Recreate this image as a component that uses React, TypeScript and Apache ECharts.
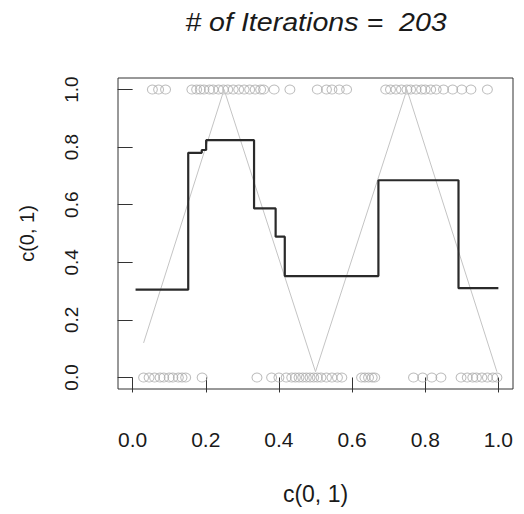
import React, { useEffect, useRef } from "react";
import * as echarts from "echarts";

const titleText = "# of Iterations =  203";
const axisTitle = "c(0, 1)";
const tickValues = [0, 0.2, 0.4, 0.6, 0.8, 1.0];

// observed points with y = 1
const onesX = [
  0.054, 0.071, 0.09,
  0.162, 0.175, 0.185, 0.195, 0.21, 0.22, 0.235, 0.248, 0.26, 0.275, 0.29, 0.305, 0.32, 0.335, 0.35, 0.358,
  0.387, 0.43,
  0.505, 0.53, 0.545, 0.565, 0.585,
  0.692, 0.705, 0.72, 0.735, 0.75, 0.76, 0.775, 0.79, 0.8, 0.815, 0.83, 0.85, 0.875, 0.9, 0.925, 0.97,
];
// observed points with y = 0
const zerosX = [
  0.03, 0.045, 0.06, 0.075, 0.085, 0.1, 0.11, 0.125, 0.135, 0.145,
  0.19,
  0.34,
  0.38, 0.4, 0.42, 0.435, 0.445, 0.455, 0.465, 0.475, 0.485, 0.495, 0.505, 0.515, 0.53, 0.545, 0.56, 0.572,
  0.626, 0.635, 0.645, 0.655, 0.662,
  0.768, 0.793, 0.818, 0.843,
  0.898, 0.915, 0.93, 0.94, 0.955, 0.97, 0.985, 0.996,
];

// true function (triangle wave)
const truthX = [0.03, 0.25, 0.5, 0.75, 0.996];
const truthY = [0.12, 1.0, 0.02, 1.0, 0.02];

// fitted step function
const stepX = [0.008, 0.152, 0.189, 0.201, 0.332, 0.391, 0.416, 0.672, 0.891, 1.0];
const stepY = [0.305, 0.78, 0.79, 0.824, 0.587, 0.489, 0.352, 0.685, 0.31, 0.31];

const FONT = "'Liberation Sans', Arial, Helvetica, sans-serif";

export default function App() {
  const ref = useRef<HTMLDivElement>(null);

  useEffect(() => {
    if (!ref.current) return;
    const chart = echarts.init(ref.current, undefined, { renderer: "svg" });

    const circleStyle = {
      color: "rgba(0,0,0,0)",
      borderColor: "#acacac",
      borderWidth: 1,
    };

    chart.setOption({
      animation: false,
      backgroundColor: "#ffffff",
      graphic: [
        {
          type: "text",
          x: 316,
          y: 22,
          scaleX: 1.1,
          style: {
            text: titleText,
            textAlign: "center",
            textVerticalAlign: "middle",
            font: `italic 26px ${FONT}`,
            fill: "#1a1a1a",
          },
        },
      ],
      grid: {
        left: 118,
        right: 11,
        top: 78,
        bottom: 125,
        show: true,
        borderColor: "#333",
        borderWidth: 1,
        backgroundColor: "transparent",
      },
      xAxis: {
        type: "value",
        min: -0.04,
        max: 1.04,
        name: axisTitle,
        nameLocation: "middle",
        nameGap: 93,
        nameTextStyle: { fontFamily: FONT, fontSize: 23, color: "#1a1a1a" },
        axisLine: { show: false },
        splitLine: { show: false },
        axisTick: {
          show: true,
          length: 15,
          customValues: tickValues,
          lineStyle: { color: "#333", width: 1 },
        },
        axisLabel: {
          customValues: tickValues,
          margin: 40,
          fontFamily: FONT,
          fontSize: 21,
          color: "#1a1a1a",
          formatter: (v: number) => v.toFixed(1),
        },
      },
      yAxis: {
        type: "value",
        min: -0.04,
        max: 1.04,
        name: axisTitle,
        nameLocation: "middle",
        nameGap: 81,
        nameTextStyle: { fontFamily: FONT, fontSize: 20, color: "#1a1a1a" },
        axisLine: { show: false },
        splitLine: { show: false },
        axisTick: {
          show: true,
          length: 15,
          customValues: tickValues,
          lineStyle: { color: "#333", width: 1 },
        },
        axisLabel: {
          customValues: tickValues,
          rotate: 90,
          margin: 37,
          fontFamily: FONT,
          fontSize: 19,
          color: "#1a1a1a",
          formatter: (v: number) => v.toFixed(1),
        },
      },
      series: [
        {
          type: "scatter",
          symbol: "circle",
          symbolSize: [10, 9],
          itemStyle: circleStyle,
          data: onesX.map((x) => [x, 1]),
          z: 2,
        },
        {
          type: "scatter",
          symbol: "circle",
          symbolSize: [10, 9],
          itemStyle: circleStyle,
          data: zerosX.map((x) => [x, 0]),
          z: 2,
        },
        {
          type: "line",
          showSymbol: false,
          symbol: "none",
          lineStyle: { color: "#c4c4c4", width: 1 },
          data: truthX.map((x, i) => [x, truthY[i]]),
          z: 3,
        },
        {
          type: "line",
          showSymbol: false,
          symbol: "none",
          step: "end",
          lineStyle: { color: "#2a2a2a", width: 2.2 },
          data: stepX.map((x, i) => [x, stepY[i]]),
          z: 4,
        },
      ],
    });

    return () => chart.dispose();
  }, []);

  return (
    <div
      ref={ref}
      style={{
        position: "fixed",
        left: 0,
        top: 0,
        width: 524,
        height: 514,
        background: "#fff",
      }}
    />
  );
}
